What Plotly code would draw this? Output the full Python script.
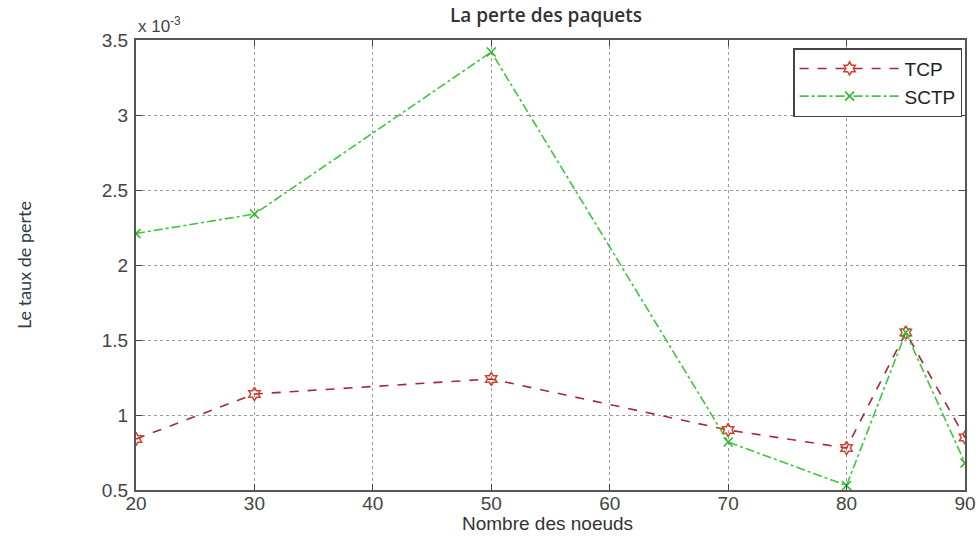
import plotly.graph_objects as go

nodes = [20, 30, 50, 70, 80, 85, 90]
tcp = [0.84, 1.14, 1.24, 0.90, 0.78, 1.55, 0.85]
sctp = [2.21, 2.34, 3.42, 0.82, 0.53, 1.55, 0.68]
x_ticks = [20, 30, 40, 50, 60, 70, 80, 90]
y_ticks = [0.5, 1, 1.5, 2, 2.5, 3, 3.5]
y_tick_labels = ["0.5", "1", "1.5", "2", "2.5", "3", "3.5"]

fig = go.Figure()
fig.add_trace(go.Scatter(
    x=nodes, y=tcp, name="TCP", mode="lines+markers",
    line=dict(color="#a8283a", width=1.6, dash="dash"),
    marker=dict(symbol="hexagram-open", size=10, color="#d6402a",
                line=dict(color="#d6402a", width=1.5)),
))
fig.add_trace(go.Scatter(
    x=nodes, y=sctp, name="SCTP", mode="lines+markers",
    line=dict(color="#3cc83c", width=1.6, dash="dashdot"),
    marker=dict(symbol="x-thin-open", size=9, color="#2fb82f",
                line=dict(color="#2fb82f", width=1.6)),
))

axis_common = dict(
    showline=True, linecolor="#555", linewidth=2, mirror="ticks",
    ticks="inside", ticklen=6, tickcolor="#444",
    showgrid=True, gridcolor="#999", griddash="dot", gridwidth=1,
    zeroline=False, automargin=False,
    tickfont=dict(family="Liberation Sans, Arial", size=19, color="#444"),
)

fig.update_layout(
    width=980, height=540,
    margin=dict(l=136, r=15, t=40, b=50),
    paper_bgcolor="white", plot_bgcolor="white",
    xaxis=dict(range=[20, 90], tickvals=x_ticks, ticklabelstandoff=-5, **axis_common),
    yaxis=dict(range=[0.5, 3.5], tickvals=y_ticks, ticktext=y_tick_labels, ticklabelstandoff=2, **axis_common),
    legend=dict(x=0.9965, y=0.982, xanchor="right", yanchor="top",
                bordercolor="#444", borderwidth=1.5, bgcolor="white",
                font=dict(family="Liberation Sans, Arial", size=19, color="#222"),
                itemwidth=100, tracegroupgap=0),
    showlegend=True,
)

fig.add_annotation(
    text="La perte des paquets", xref="paper", yref="paper", x=0.494, y=1.0,
    xanchor="center", yanchor="middle", yshift=25, showarrow=False,
    font=dict(family="Open Sans", size=19, color="#333", weight=600),
)
fig.add_annotation(
    text="Nombre des noeuds", xref="paper", yref="paper", x=0.496, y=0.0,
    xanchor="center", yanchor="middle", yshift=-33, showarrow=False,
    font=dict(family="Liberation Sans, Arial", size=19, color="#333"),
)
fig.add_annotation(
    text="Le taux de perte", xref="paper", yref="paper", x=0.0, y=0.5,
    xanchor="center", yanchor="middle", xshift=-112, textangle=-90, showarrow=False,
    font=dict(family="Lato", size=18, color="#2e3a48"),
)
fig.add_annotation(
    text="x 10<sup>-3</sup>", xref="paper", yref="paper", x=0.0, y=1.0,
    xanchor="left", yanchor="bottom", showarrow=False, yshift=2,
    font=dict(family="Liberation Sans, Arial", size=17, color="#444"),
)

fig.write_html("out.html", config={"displayModeBar": False},
               post_script="document.body.style.margin='0';")
